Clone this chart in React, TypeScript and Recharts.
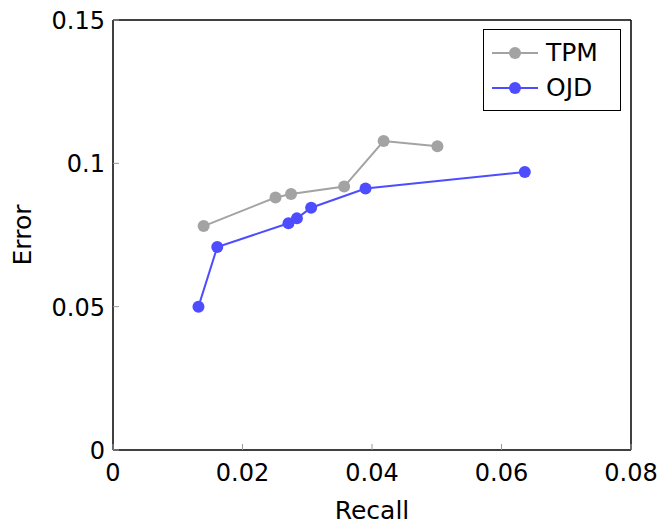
import { ComposedChart, Line, XAxis, YAxis } from "recharts"

const tpmRecall = [0.014, 0.0251, 0.0275, 0.0357, 0.0418, 0.0501]
const tpmError = [0.0781, 0.0881, 0.0893, 0.0919, 0.1078, 0.106]
const ojdRecall = [0.0132, 0.0161, 0.0271, 0.0284, 0.0306, 0.039, 0.0636]
const ojdError = [0.05, 0.0708, 0.0791, 0.0808, 0.0845, 0.0912, 0.097]
const xTicks = [0, 0.02, 0.04, 0.06, 0.08]
const yTicks = [0, 0.05, 0.1, 0.15]
const seriesNames = ["TPM", "OJD"]

const GRAY = "#a3a3a3"
const BLUE = "#4d4dff"
const FONT = "'DejaVu Sans', sans-serif"
const FRAME = { stroke: "#000", strokeWidth: 1.5 }

const tpmData = tpmRecall.map((r, i) => ({ recall: r, error: tpmError[i] }))
const ojdData = ojdRecall.map((r, i) => ({ recall: r, error: ojdError[i] }))

const fmt = (v: number) => (v === 0 ? "0" : String(v))

const BottomTick = ({ x, y, payload }: any) => (
  <g>
    <line x1={x} y1={y} x2={x} y2={y - 6} stroke="#999" strokeWidth={1} />
    <text x={x} y={y + 31} textAnchor="middle" fontSize={24} fontFamily={FONT} fill="#000">
      {fmt(payload.value)}
    </text>
  </g>
)

const TopTick = ({ x, y }: any) => (
  <line x1={x} y1={y} x2={x} y2={y + 6} stroke="#999" strokeWidth={1} />
)

const LeftTick = ({ x, y, payload }: any) => (
  <g>
    <line x1={x} y1={y} x2={x + 6} y2={y} stroke="#999" strokeWidth={1} />
    <text x={x - 8} y={y + 9} textAnchor="end" fontSize={24} fontFamily={FONT} fill="#000">
      {fmt(payload.value)}
    </text>
  </g>
)

const RightTick = ({ x, y }: any) => (
  <line x1={x} y1={y} x2={x - 6} y2={y} stroke="#999" strokeWidth={1} />
)

function ChartLegend() {
  const colors = [GRAY, BLUE]
  return (
    <div
      style={{
        position: "absolute",
        left: 483,
        top: 29,
        border: "1px solid #000",
        background: "#fff",
        width: 138,
        height: 82,
        boxSizing: "border-box",
        fontFamily: FONT,
        fontSize: 25,
        paddingTop: 5,
      }}
    >
      {seriesNames.map((name, i) => (
        <div key={name} style={{ display: "flex", alignItems: "center", height: 35 }}>
          <svg width={54} height={20} style={{ marginLeft: 8 }}>
            <line x1={0} y1={10} x2={46} y2={10} stroke={colors[i]} strokeWidth={2} />
            <circle cx={23} cy={10} r={6} fill={colors[i]} />
          </svg>
          <span>{name}</span>
        </div>
      ))}
    </div>
  )
}

export default function App() {
  return (
    <div style={{ position: "absolute", left: 0, top: 0, width: 660, height: 524, background: "#fff" }}>
      <ComposedChart
        width={660}
        height={524}
        margin={{ top: 19, right: 28, left: 0, bottom: 0 }}
      >
        <XAxis
          xAxisId="b"
          dataKey="recall"
          type="number"
          domain={[0, 0.08]}
          ticks={xTicks}
          tickSize={0}
          tickMargin={0}
          tickLine={false}
          tick={<BottomTick />}
          height={74}
          stroke="#000"
          axisLine={FRAME}
          allowDataOverflow
          label={{ value: "Recall", position: "insideBottom", offset: 5, fontSize: 25, fontFamily: FONT, fill: "#000" }}
        />
        <XAxis
          xAxisId="t"
          orientation="top"
          dataKey="recall"
          type="number"
          domain={[0, 0.08]}
          ticks={xTicks}
          tickSize={0}
          tickMargin={0}
          tickLine={false}
          tick={<TopTick />}
          height={1}
          stroke="#000"
          axisLine={FRAME}
        />
        <YAxis
          yAxisId="l"
          dataKey="error"
          type="number"
          domain={[0, 0.15]}
          ticks={yTicks}
          tickSize={0}
          tickMargin={0}
          tickLine={false}
          tick={<LeftTick />}
          width={113}
          stroke="#000"
          axisLine={FRAME}
          allowDataOverflow
          label={{ value: "Error", angle: -90, position: "insideLeft", offset: 22, fontSize: 25, fontFamily: FONT, fill: "#000", style: { textAnchor: "middle" } }}
        />
        <YAxis
          yAxisId="r"
          orientation="right"
          dataKey="error"
          type="number"
          domain={[0, 0.15]}
          ticks={yTicks}
          tickSize={0}
          tickMargin={0}
          tickLine={false}
          tick={<RightTick />}
          width={1}
          stroke="#000"
          axisLine={FRAME}
        />
        <Line
          xAxisId="b"
          yAxisId="l"
          data={tpmData}
          dataKey="error"
          name={seriesNames[0]}
          stroke={GRAY}
          strokeWidth={2}
          dot={{ r: 6, fill: GRAY, stroke: GRAY, strokeWidth: 0 }}
          isAnimationActive={false}
        />
        <Line
          xAxisId="b"
          yAxisId="l"
          data={ojdData}
          dataKey="error"
          name={seriesNames[1]}
          stroke={BLUE}
          strokeWidth={2}
          dot={{ r: 6, fill: BLUE, stroke: BLUE, strokeWidth: 0 }}
          isAnimationActive={false}
        />
      </ComposedChart>
      <ChartLegend />
    </div>
  )
}
